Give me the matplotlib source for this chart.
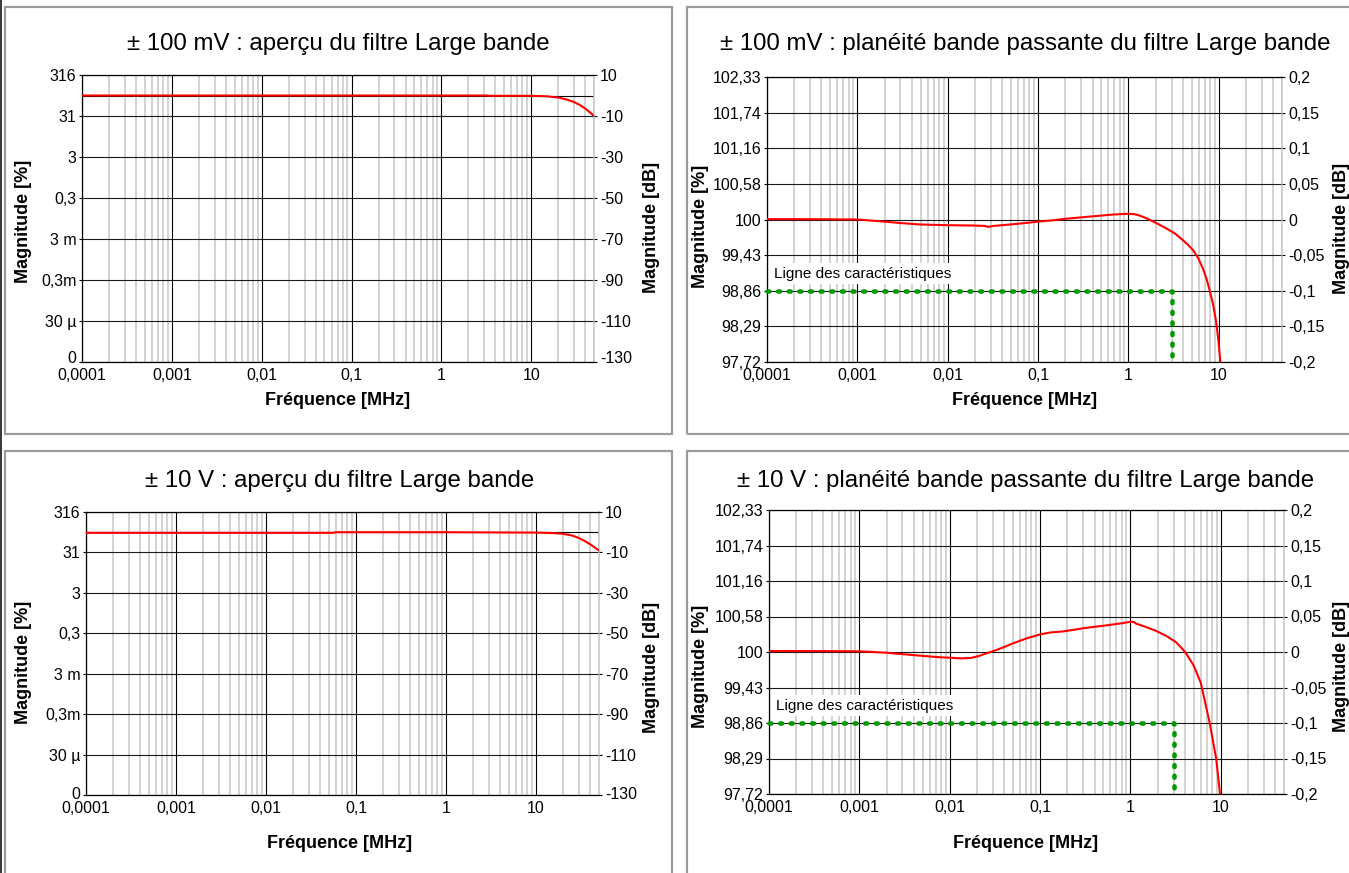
import matplotlib
matplotlib.use("Agg")
import matplotlib.pyplot as plt
from matplotlib.patches import Rectangle
from matplotlib.lines import Line2D
from matplotlib.transforms import ScaledTranslation
from matplotlib.ticker import LogLocator, NullFormatter, FixedLocator

plt.rcParams['font.family'] = ['Liberation Sans', 'DejaVu Sans']

W, H, DPI = 1349, 873, 100

# ---------------------------------------------------------------- axes & ticks
freq_limits = (1e-4, 50)
freq_major = [1e-4, 1e-3, 1e-2, 0.1, 1, 10]
freq_major_labels = ["0,0001", "0,001", "0,01", "0,1", "1", "10"]

overview_db_ticks = [10, -10, -30, -50, -70, -90, -110, -130]
overview_db_labels = ["10", "-10", "-30", "-50", "-70", "-90", "-110", "-130"]
overview_pct_labels = ["316", "31", "3", "0,3", "3 m", "0,3m", "30 µ", "0"]

flat_db_ticks = [0.2, 0.15, 0.1, 0.05, 0, -0.05, -0.1, -0.15, -0.2]
flat_db_labels = ["0,2", "0,15", "0,1", "0,05", "0", "-0,05", "-0,1", "-0,15", "-0,2"]
flat_pct_labels = ["102,33", "101,74", "101,16", "100,58", "100",
                   "99,43", "98,86", "98,29", "97,72"]

# ---------------------------------------------------------------- responses
# ±100 mV, overview (dB)
freq_ov_100mv = [1e-4, 1e-3, 1e-2, 0.1, 1, 3.2, 3.4, 10, 15, 20, 25, 30, 35, 40, 45, 50]
db_ov_100mv = [0, 0, 0, 0, 0, 0, -0.15, -0.15, -0.4, -1.0, -2.0, -3.2, -4.7, -6.4, -8.2, -10.0]

# ±10 V, overview (dB)
freq_ov_10v = [1e-4, 1e-3, 1e-2, 0.055, 0.06, 1, 10, 15, 20, 25, 30, 35, 40, 45, 50]
db_ov_10v = [-0.3, -0.3, -0.3, -0.3, 0, 0, -0.2, -0.4, -0.8, -1.6, -2.9, -4.4, -6.0, -7.6, -9.0]

# ±100 mV, passband flatness (dB)
freq_flat_100mv = [1e-4, 2e-4, 5e-4, 1e-3, 2e-3, 3e-3, 5e-3, 0.01, 0.02, 0.026, 0.028,
                   0.032, 0.04, 0.06, 0.1, 0.15, 0.2, 0.3, 0.45, 0.65, 0.85, 1.0, 1.15,
                   1.3, 1.5, 1.75, 2.1, 2.64, 3.3, 4.0, 4.6, 5.18, 5.9, 6.67, 7.3, 7.9,
                   8.6, 9.3, 9.9, 10.4]
db_flat_100mv = [0.0005, 0.0005, 0.0003, 0.0, -0.003, -0.005, -0.007, -0.008, -0.0085,
                 -0.009, -0.0105, -0.009, -0.008, -0.006, -0.003, -0.001, 0.001, 0.003,
                 0.005, 0.0068, 0.0077, 0.008, 0.0075, 0.006, 0.003, -0.001, -0.006,
                 -0.0127, -0.02, -0.029, -0.036, -0.043, -0.054, -0.069, -0.083, -0.099,
                 -0.118, -0.142, -0.17, -0.2]

# ±10 V, passband flatness (dB)
freq_flat_10v = [1e-4, 3e-4, 1e-3, 2e-3, 3.2e-3, 5e-3, 0.008, 0.01, 0.013, 0.017, 0.021,
                 0.026, 0.032, 0.04, 0.049, 0.07, 0.1, 0.13, 0.18, 0.31, 0.54, 0.8, 1.0,
                 1.08, 1.15, 1.5, 1.9, 2.5, 3.18, 3.6, 4.1, 5.0, 6.0, 7.5, 8.9, 9.8]
db_flat_10v = [0.0014, 0.0013, 0.001, -0.001, -0.0033, -0.0055, -0.0075, -0.008, -0.009,
               -0.0085, -0.0056, -0.0015, 0.0023, 0.007, 0.0117, 0.019, 0.0248, 0.0275,
               0.029, 0.0337, 0.0375, 0.0405, 0.0425, 0.0425, 0.040, 0.035, 0.030,
               0.0225, 0.014, 0.007, -0.0014, -0.019, -0.0434, -0.099, -0.151, -0.2]

# Specification line (-0.1 dB up to 3 MHz)
spec_freq = [1e-4, 3, 3]
spec_db = [-0.1, -0.1, -0.2]
spec_text = "Ligne des caractéristiques"

titles = ["± 100 mV : aperçu du filtre Large bande",
          "± 100 mV : planéité bande passante du filtre Large bande",
          "± 10 V : aperçu du filtre Large bande",
          "± 10 V : planéité bande passante du filtre Large bande"]
xlabel = "Fréquence [MHz]"
ylabel_left = "Magnitude [%]"
ylabel_right = "Magnitude [dB]"

RED = "#ff0000"
GREEN = "#009a00"
MINOR_GREY = "#c8c8c8"
BOX_GREY = "#9c9c9c"

fig = plt.figure(figsize=(W / DPI, H / DPI), dpi=DPI)


def px_rect(left, top, right, bottom):
    return [left / W, 1 - bottom / H, (right - left) / W, (bottom - top) / H]


def fx(x):
    return x / W


def fy(y):
    return 1 - y / H


# panel frames
for (l, t, r, b) in [(4.5, 7.5, 672, 434), (687, 7.5, 1400, 434),
                     (4.5, 450.5, 672, 920), (687, 450.5, 1400, 920)]:
    fig.patches.append(Rectangle((fx(l), fy(b)), fx(r) - fx(l), fy(t) - fy(b),
                                 transform=fig.transFigure, fill=False,
                                 edgecolor=BOX_GREY, linewidth=1.6, clip_on=False))
fig.lines.append(Line2D([fx(0.8), fx(0.8)], [0, 1], transform=fig.transFigure,
                        color="black", linewidth=1.1))


def make_panel(rect, ylim, db_ticks, db_labels, pct_labels, zero_line, lift_bottom=0):
    ax = fig.add_axes(rect)
    ax.set_xscale('log')
    ax.set_xlim(*freq_limits)
    ax.set_ylim(*ylim)
    ax.set_axisbelow(True)
    ax.xaxis.set_major_locator(FixedLocator(freq_major))
    ax.set_xticklabels(freq_major_labels)
    ax.xaxis.set_minor_locator(LogLocator(base=10, subs=range(2, 10), numticks=50))
    ax.xaxis.set_minor_formatter(NullFormatter())
    ax.grid(True, which='minor', axis='x', color=MINOR_GREY, linewidth=1.1)
    ax.grid(True, which='major', axis='x', color='black', linewidth=0.8)
    ax.set_yticks(db_ticks)
    ax.set_yticklabels(pct_labels)
    ax.grid(True, which='major', axis='y', color='#1a1a1a', linewidth=0.8)
    if zero_line:
        ax.axhline(0, color='black', linewidth=0.8, zorder=1)
    ax.tick_params(axis='x', which='both', length=0, pad=4.4, labelsize=11.5)
    ax.tick_params(axis='y', length=2.3, width=0.8, pad=1.8, labelsize=11.5,
                   direction='out')
    for s in ['left', 'top', 'bottom']:
        ax.spines[s].set_color('black')
        ax.spines[s].set_linewidth(0.9)
    ax.spines['right'].set_color(MINOR_GREY)
    ax.spines['right'].set_linewidth(1.1)

    ax2 = ax.twinx()
    ax2.set_ylim(*ylim)
    ax2.set_yticks(db_ticks)
    ax2.set_yticklabels(db_labels)
    ax2.tick_params(axis='y', length=2.3, width=0.8, pad=2.2, labelsize=11.5,
                    direction='out')
    for s in ax2.spines.values():
        s.set_visible(False)

    if lift_bottom:
        shift = ScaledTranslation(0, lift_bottom / DPI, fig.dpi_scale_trans)
        for a in (ax, ax2):
            lab = a.get_yticklabels()[-1]
            lab.set_transform(lab.get_transform() + shift)
    return ax


# ±100 mV overview
ax_tl = make_panel(px_rect(82, 75, 594, 362), (-130, 10), overview_db_ticks,
                   overview_db_labels, overview_pct_labels, True, lift_bottom=5)
ax_tl.plot(freq_ov_100mv, db_ov_100mv, color=RED, linewidth=1.5, zorder=3)

# ±100 mV flatness
ax_tr = make_panel(px_rect(767, 77, 1282, 362), (-0.2, 0.2), flat_db_ticks,
                   flat_db_labels, flat_pct_labels, False)
ax_tr.plot(freq_flat_100mv, db_flat_100mv, color=RED, linewidth=1.5, zorder=3)

# ±10 V overview
ax_bl = make_panel(px_rect(86, 512, 599, 795), (-130, 10), overview_db_ticks,
                   overview_db_labels, overview_pct_labels, True, lift_bottom=2)
ax_bl.plot(freq_ov_10v, db_ov_10v, color=RED, linewidth=1.5, zorder=3)

# ±10 V flatness
ax_br = make_panel(px_rect(769, 510, 1284, 794), (-0.2, 0.2), flat_db_ticks,
                   flat_db_labels, flat_pct_labels, False)
ax_br.plot(freq_flat_10v, db_flat_10v, color=RED, linewidth=1.5, zorder=3)

for ax in (ax_tr, ax_br):
    ax.plot(spec_freq, spec_db, color=GREEN, linewidth=3.3,
            linestyle=(0, (0.42, 1.9)), dash_capstyle='round',
            solid_capstyle='round', zorder=4, clip_on=False)
    ax.text(1.19e-4, -0.076, spec_text, fontsize=11, va='center', ha='left',
            zorder=2, bbox=dict(facecolor='white', edgecolor='none', pad=2.5))

# titles and axis labels
title_pos = [(338, 44), (1025, 44), (340, 481), (1026, 481)]
xlabel_pos = [(338, 401), (1025, 401), (340, 843.5), (1026, 843.5)]
ylabel_left_pos = [(24, 221), (701, 226), (24, 662), (701, 666)]
ylabel_right_pos = [(652, 227), (1342, 228), (652, 667), (1342, 666)]

for i in range(4):
    fig.text(fx(title_pos[i][0]), fy(title_pos[i][1]), titles[i], fontsize=17.3,
             ha='center', va='center')
    fig.text(fx(xlabel_pos[i][0]), fy(xlabel_pos[i][1]), xlabel, fontsize=13,
             fontweight='bold', ha='center', va='center')
    fig.text(fx(ylabel_left_pos[i][0]), fy(ylabel_left_pos[i][1]), ylabel_left,
             fontsize=13, fontweight='bold', ha='center', va='center', rotation=90)
    fig.text(fx(ylabel_right_pos[i][0]), fy(ylabel_right_pos[i][1]), ylabel_right,
             fontsize=13, fontweight='bold', ha='center', va='center', rotation=90)

fig.savefig("out.png", dpi=DPI)
